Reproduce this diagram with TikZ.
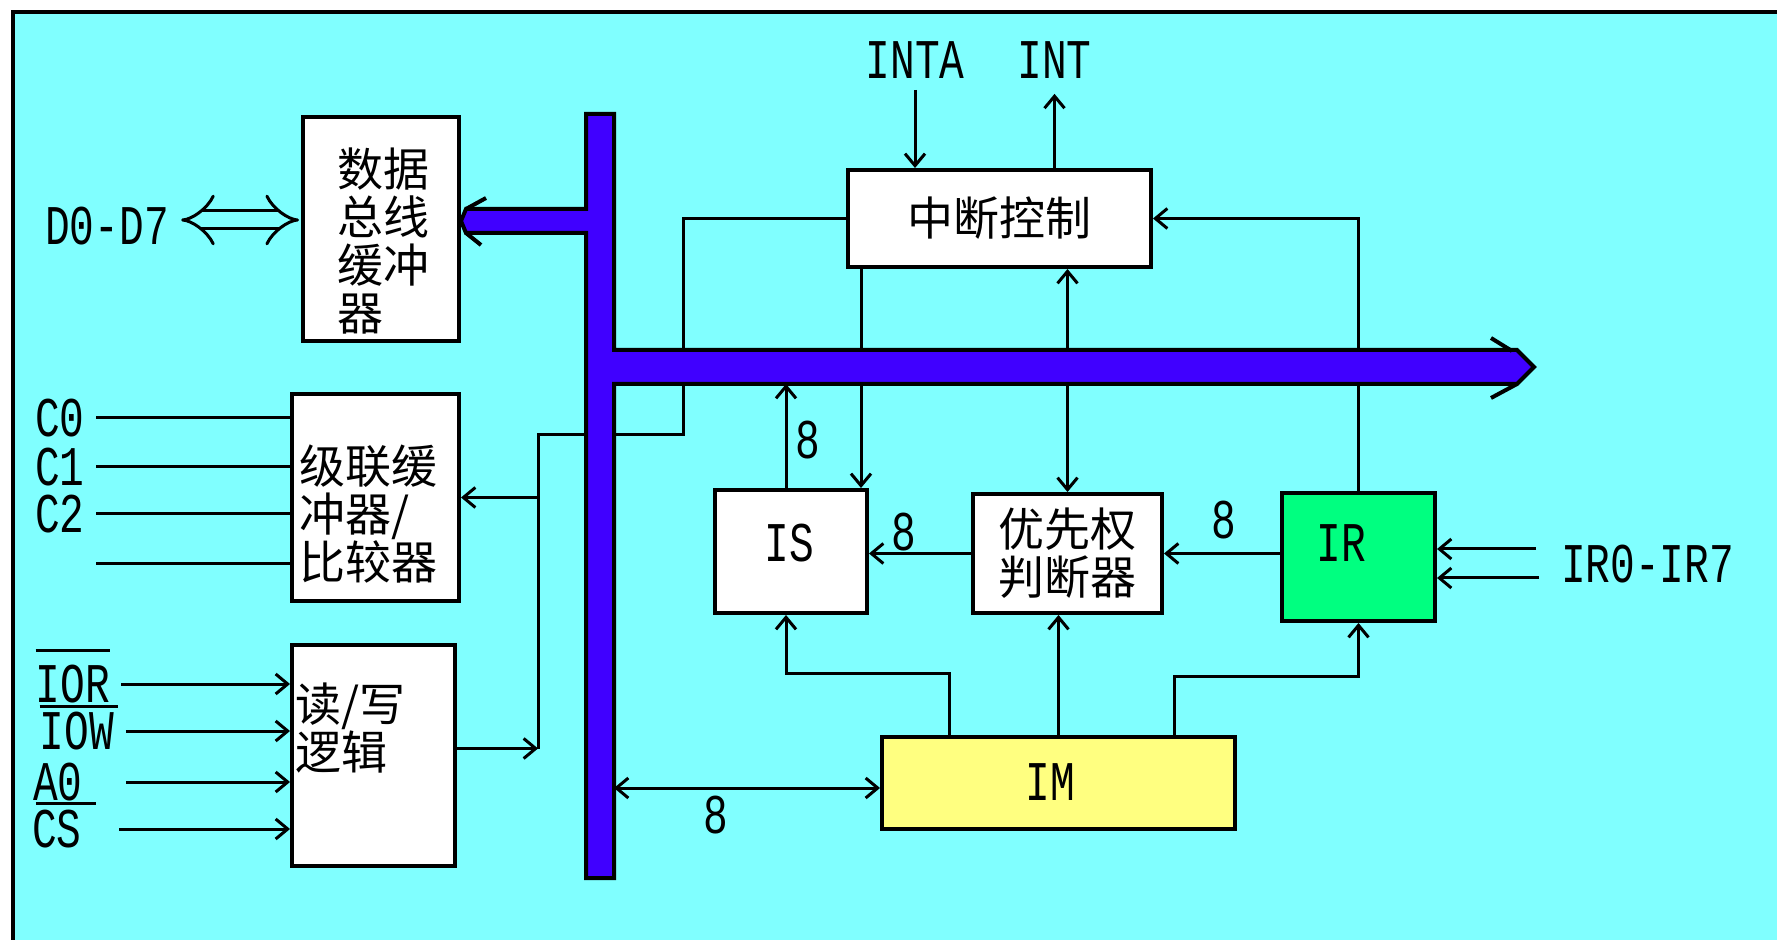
\documentclass[tikz,border=0pt]{standalone}
\usepackage{fontspec}
\newfontfamily\latf{Liberation Mono}
\newfontfamily\cjkf{Noto Sans CJK SC}
\usetikzlibrary{arrows.meta,calc}
\definecolor{bgcyan}{HTML}{80FFFF}
\definecolor{busblue}{HTML}{4000FF}
\definecolor{irgreen}{HTML}{00FF80}
\definecolor{imyellow}{HTML}{FFFF80}
\newcommand{\lt}[1]{\scalebox{0.735}[1]{\latf\fontsize{28}{28}\selectfont #1}}
\begin{document}
\begin{tikzpicture}[x=0.5pt,y=-0.5pt,
  blk/.style={draw, line width=2pt, fill=white, inner sep=0pt},
  ln/.style={line width=1.5pt},
  arr/.style={ln, -{Straight Barb[length=6pt,width=10pt]}},
  arrb/.style={ln, {Straight Barb[length=6pt,width=10pt]}-{Straight Barb[length=6pt,width=10pt]}},
  cj/.style={font=\cjkf\fontsize{23}{24}\selectfont, align=left, inner sep=0pt},
  lbl/.style={inner sep=0pt}]
\useasboundingbox (0,0) rectangle (1777,940);
\fill[white] (0,0) rectangle (1777,940);
\fill[bgcyan] (13,12) rectangle (1777,940);
\draw[line width=2pt] (13,940) -- (13,12) -- (1777,12);

% boxes
\node[blk, minimum width=78pt, minimum height=112pt] (dbuf) at (381,229) {};
\node[blk, minimum width=83.5pt, minimum height=103.5pt] (casc) at (375.5,497.5) {};
\node[blk, minimum width=81.5pt, minimum height=110.5pt] (rw) at (373.5,755.5) {};
\node[blk, minimum width=151.5pt, minimum height=48.5pt, cj] (ctrl) at (999.5,218.5) {中断控制};
\node[blk, minimum width=76pt, minimum height=61.5pt] (is) at (791,551.5) {};
\node[blk, minimum width=94.5pt, minimum height=59.5pt, cj] (prio) at (1067.5,553.5) {优先权\\判断器};
\node[blk, fill=irgreen, minimum width=76.5pt, minimum height=64pt] (ir) at (1358.5,557) {};
\node[blk, fill=imyellow, minimum width=176.5pt, minimum height=46pt] (im) at (1058.5,783) {};

% box texts
\node[cj, anchor=west] (dbuftxt) at (337,241.5) {数据\\总线\\缓冲\\器};
\node[cj, anchor=west] (casctxt) at (299,514) {级联缓\\冲器/\\比较器};
\node[cj, anchor=west] (rwtxt) at (295,728) {读/写\\逻辑};
\node[lbl] (istxt) at (789,543) {\lt{IS}};
\node[lbl] (irlbl) at (1341,543) {\lt{IR}};
\node[lbl] (imtxt) at (1050,782) {\lt{IM}};

% outside labels
\node[lbl] (d07) at (107,226) {\lt{D0-D7}};
\node[lbl] (inta) at (915,60) {\lt{INTA}};
\node[lbl] (int) at (1054.5,60) {\lt{INT}};
\node[lbl] (c0) at (60,418) {\lt{C0}};
\node[lbl] (c1) at (60,467) {\lt{C1}};
\node[lbl] (c2) at (60,514) {\lt{C2}};
\node[lbl] (ior) at (73,684) {\lt{IOR}};
\node[lbl] (iow) at (77,731) {\lt{IOW}};
\node[lbl] (a0) at (58,782) {\lt{A0}};
\node[lbl] (cs) at (57,829) {\lt{CS}};
\node[lbl] (irtxt) at (1647.5,564) {\lt{IR0-IR7}};
\node[lbl] (e1) at (808,440) {\lt{8}};
\node[lbl] (e2) at (904,532) {\lt{8}};
\node[lbl] (e3) at (1224,520) {\lt{8}};
\node[lbl] (e4) at (716,815) {\lt{8}};

% overlines
\draw[ln] ([yshift=7pt]ior.north west) -- ([yshift=7pt]ior.north east);
\draw[ln] ([yshift=2.5pt]iow.north west) -- ([yshift=2.5pt,xshift=2pt]iow.north east);
\draw[ln] ([yshift=3pt,xshift=2pt]cs.north west) -- ([yshift=3pt,xshift=7pt]cs.north east);

% named coordinates
\coordinate (vbR) at (614,0);
\coordinate (hbB) at (0,384);
\coordinate (k1) at (683,435);
\coordinate (jrw) at (538,748.5);
\coordinate (c3) at (96,564);
\coordinate (i1) at (1536,549);
\coordinate (i2) at (1539,578);
\coordinate (a1) at ([xshift=7.5pt]ctrl.south west);
\coordinate (a2) at ([xshift=-2.5pt]is.north);
\coordinate (a4) at ([xshift=-2.5pt]is.south);
\coordinate (a3) at ([xshift=34.5pt]im.north west);
\coordinate (a5) at ([xshift=-31.5pt]im.north east);
\coordinate (a6) at ([yshift=-2.5pt]im.west);

% D0-D7 double arrow
\draw[line width=1.5pt, double=bgcyan, double distance=7.5pt, {Implies}-{Implies}, shorten <=6pt, shorten >=1pt]
  ([yshift=3pt]d07.east) -- ([yshift=4.5pt]dbuf.west);

% INTA / INT
\draw[arr, shorten <=5.5pt] (inta.south) -- (inta.south |- ctrl.north);
\draw[arr, shorten >=7.5pt] (int.south |- ctrl.north) -- (int.south);

% control to read/write and cascade
\draw[ln] (ctrl.west) -| (k1) -- (jrw |- k1) -- (jrw);
\draw[arr] ([yshift=3.5pt]rw.east) -- (jrw);
\draw[arr] (jrw |- casc.east) -- (casc.east);

% cascade inputs
\draw[ln] ([xshift=5.5pt]c0.east) -- (c0.east -| casc.west);
\draw[ln] ([xshift=5.5pt]c1.east) -- (c1.east -| casc.west);
\draw[ln] ([xshift=5.5pt]c2.east) -- (c2.east -| casc.west);
\draw[ln] (c3) -- (c3 -| casc.west);

% read/write inputs
\draw[arr] ([xshift=5.5pt]ior.east) -- (ior.east -| rw.west);
\draw[arr] ([xshift=5.75pt]iow.east) -- (iow.east -| rw.west);
\draw[arr] ([xshift=21.5pt]a0.east) -- (a0.east -| rw.west);
\draw[arr] ([xshift=18.5pt]cs.east) -- (cs.east -| rw.west);

% internal connections
\draw[arr] (a1) -- (a1 |- is.north);
\draw[arr] (a2) -- (a2 |- hbB);
\draw[arrb] (prio.north |- ctrl.south) -- (prio.north);
\draw[arr] (ir.north) |- (ctrl.east);
\draw[arr] (prio.west) -- (prio.west -| is.east);
\draw[arr] (ir.west |- prio.east) -- (prio.east);
\draw[arr] (a3) |- ($(a4)+(0,58)$) -- (a4);
\draw[arr] (im.north) -- (im.north |- prio.south);
\draw[arr] (a5) |- ($(ir.south)+(0,53)$) -- (ir.south);
\draw[arrb] (vbR |- a6) -- (a6);
\draw[arr] (i1) -- (i1 -| ir.east);
\draw[arr] (i2) -- (i2 -| ir.east);

% buses
\draw[line width=2pt, fill=busblue]
  (586,114) -- (614,114) -- (614,350) -- (1517,350) -- (1534,367) -- (1517,384)
  -- (614,384) -- (614,878) -- (586,878) -- (586,233) -- (466,233) -- (461,221)
  -- (466,209) -- (586,209) -- cycle;
\draw[line width=2pt] (1491,338) -- (1512,351);
\draw[line width=2pt] (1491,398) -- (1517,384);
\draw[line width=2pt] (486,198) -- (466,209);
\draw[line width=2pt] (481,245) -- (466,233);
\end{tikzpicture}
\end{document}
